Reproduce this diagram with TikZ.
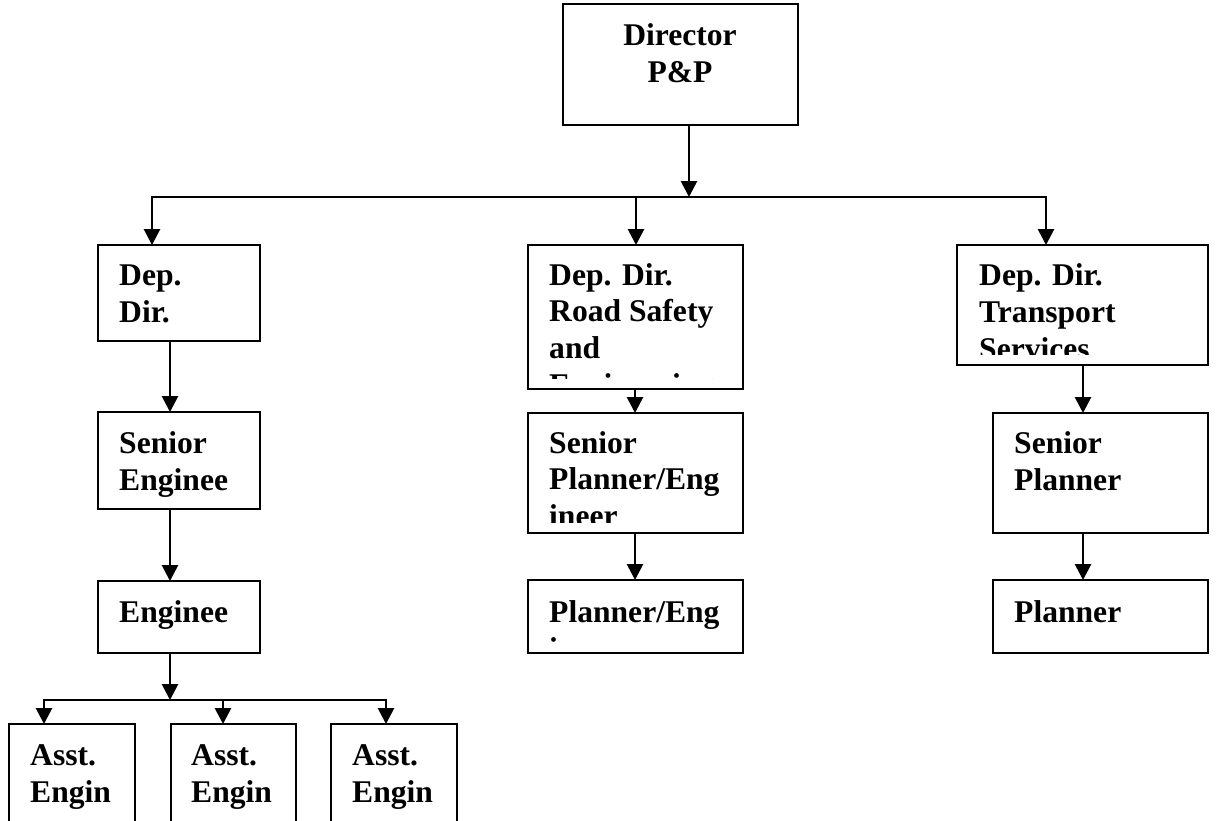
\documentclass[tikz,border=0pt]{standalone}
\usepackage{fontspec}
\setmainfont{Liberation Serif}
\usetikzlibrary{arrows.meta}
\begin{document}
\begin{tikzpicture}[x=1pt,y=-1pt,
  box/.style={draw,line width=2.6pt,outer sep=0pt,inner sep=0pt,anchor=north west},
  lbl/.style={inner sep=0pt,anchor=base west,font=\bfseries\fontsize{31.6}{37}\selectfont},
  clbl/.style={lbl,anchor=base},
  wire/.style={line width=2.8pt,line cap=rect},
  arr/.style={line width=2.8pt,-{Triangle[width=16pt,length=16pt]}}]
\useasboundingbox (0,0) rectangle (1216,820);
\clip (0,0) rectangle (1216,820);

% boxes
\node[box,minimum width=235pt,minimum height=121pt] (dir) at (563,4) {};
\node[box,minimum width=162pt,minimum height=96pt] (depA) at (98,245) {};
\node[box,minimum width=162pt,minimum height=97pt] (senA) at (98,412) {};
\node[box,minimum width=162pt,minimum height=72pt] (engA) at (98,581) {};
\node[box,minimum width=126pt,minimum height=140pt] (asA) at (9,724) {};
\node[box,minimum width=125pt,minimum height=140pt] (asB) at (171,724) {};
\node[box,minimum width=126pt,minimum height=140pt] (asC) at (331,724) {};
\node[box,minimum width=215pt,minimum height=144pt] (depB) at (528,245) {};
\node[box,minimum width=215pt,minimum height=120pt] (senB) at (528,413) {};
\node[box,minimum width=215pt,minimum height=73pt] (plB) at (528,580) {};
\node[box,minimum width=251pt,minimum height=120pt] (depC) at (957,245) {};
\node[box,minimum width=215pt,minimum height=120pt] (senC) at (993,413) {};
\node[box,minimum width=215pt,minimum height=73pt] (plC) at (993,580) {};

% labels
\node[clbl] (dirT1) at (680,45) {Director};
\node[clbl] (dirT2) at (680,82) {P\&P};
\node[lbl] (depAT1) at (119,285) {Dep.};
\node[lbl] (depAT2) at (119,322) {Dir.};
\node[lbl] (senAT1) at (119,453) {Senior};
\node[lbl] (senAT2) at (119,490) {Enginee};
\node[lbl] (engAT1) at (119,622) {Enginee};
\node[lbl] (asAT1) at (30,765) {Asst.};
\node[lbl] (asAT2) at (30,802) {Engin};
\node[lbl] (asBT1) at (191,765) {Asst.};
\node[lbl] (asBT2) at (191,802) {Engin};
\node[lbl] (asCT1) at (352,765) {Asst.};
\node[lbl] (asCT2) at (352,802) {Engin};
\begin{scope}
  \clip (depB.north west) rectangle ([yshift=11pt]depB.south east);
  \node[lbl] (depBT1) at (549,285) {Dep. Dir.};
  \node[lbl] (depBT2) at (549,321) {Road Safety};
  \node[lbl] (depBT3) at (549,358) {and};
  \node[lbl] (depBT4) at (549,395) {Engineering};
\end{scope}
\begin{scope}
  \clip (senB.north west) rectangle ([yshift=11pt]senB.south east);
  \node[lbl] (senBT1) at (549,453) {Senior};
  \node[lbl] (senBT2) at (549,489) {Planner/Eng};
  \node[lbl] (senBT3) at (549,526) {ineer};
\end{scope}
\begin{scope}
  \clip (plB.north west) rectangle ([yshift=11pt]plB.south east);
  \node[lbl] (plBT1) at (549,622) {Planner/Eng};
  \node[lbl] (plBT2) at (549,659) {ineer};
\end{scope}
\begin{scope}
  \clip (depC.north west) rectangle ([yshift=11pt]depC.south east);
  \node[lbl] (depCT1) at (979,285) {Dep. Dir.};
  \node[lbl] (depCT2) at (979,322) {Transport};
  \node[lbl] (depCT3) at (979,359) {Services};
\end{scope}
\node[lbl] (senCT1) at (1014,453) {Senior};
\node[lbl] (senCT2) at (1014,490) {Planner};
\node[lbl] (plCT1) at (1014,622) {Planner};

% top level connectors
\coordinate (jDir) at (689,197);
\coordinate (jL) at (152,197);
\coordinate (jM) at (636,197);
\coordinate (jR) at (1046,197);
\draw[arr] (dir.south -| jDir) -- (jDir);
\draw[wire] (jL) -- (jR);
\draw[arr] (jL) -- (depA.north -| jL);
\draw[arr] (jM) -- (depB.north -| jM);
\draw[arr] (jR) -- (depC.north -| jR);

% left column
\coordinate (cA) at (170,0);
\draw[arr] (depA.south -| cA) -- (senA.north -| cA);
\draw[arr] (senA.south -| cA) -- (engA.north -| cA);
\coordinate (jE) at (170,700);
\coordinate (jE1) at (44,700);
\coordinate (jE2) at (223,700);
\coordinate (jE3) at (386,700);
\draw[arr] (engA.south -| jE) -- (jE);
\draw[wire] (jE1) -- (jE3);
\draw[arr] (jE1) -- (asA.north -| jE1);
\draw[arr] (jE2) -- (asB.north -| jE2);
\draw[arr] (jE3) -- (asC.north -| jE3);

% middle column
\coordinate (cB) at (635,0);
\draw[arr] (depB.south -| cB) -- (senB.north -| cB);
\draw[arr] (senB.south -| cB) -- (plB.north -| cB);

% right column
\coordinate (cC) at (1083,0);
\draw[arr] (depC.south -| cC) -- (senC.north -| cC);
\draw[arr] (senC.south -| cC) -- (plC.north -| cC);
\end{tikzpicture}
\end{document}
